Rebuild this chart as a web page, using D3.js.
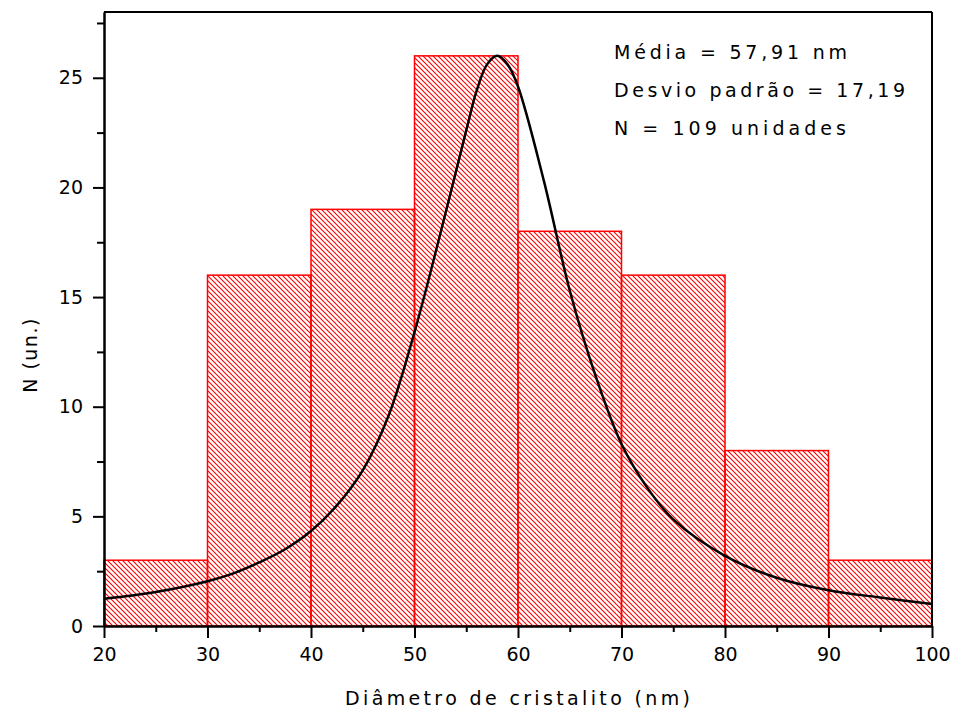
<!DOCTYPE html>
<html>
<head>
<meta charset="utf-8">
<title>Distribuição de diâmetros</title>
<script src="https://cdn.jsdelivr.net/npm/d3@7/dist/d3.min.js"></script>
<style>
    body { margin: 0; background: white; }
    svg text { font-family: "DejaVu Sans", sans-serif; fill: black; }
    .axis path, .axis line { stroke: black; stroke-width: 2; }
    .axis text { font-size: 19px; }
</style>
</head>
<body>
<svg id="mainsvg" width="955" height="718"></svg>
<script>
    // histogram bins (nm) and counts
    const binStart = [20, 30, 40, 50, 60, 70, 80, 90];
    const binEnd = [30, 40, 50, 60, 70, 80, 90, 100];
    const counts = [3, 16, 19, 26, 18, 16, 8, 3];

    // fitted curve
    const curveX = [20, 25, 30, 32.5, 35, 37.5, 40, 42.5, 45, 47.5, 50, 52.5, 55, 56, 57, 58, 59, 60, 62.5, 65, 67.5, 70, 72.5, 75, 80, 85, 90, 95, 100];
    const curveY = [1.24, 1.55, 2.04, 2.4, 2.9, 3.5, 4.33, 5.5, 7.1, 9.6, 13.4, 17.9, 22.6, 24.4, 25.6, 26.0, 25.6, 24.6, 20.3, 15.3, 11.4, 8.3, 6.3, 4.86, 3.2, 2.2, 1.63, 1.3, 1.0];

    const xTicks = [20, 30, 40, 50, 60, 70, 80, 90, 100];
    const xMinor = [25, 35, 45, 55, 65, 75, 85, 95];
    const yTicks = [0, 5, 10, 15, 20, 25];
    const yMinor = [2.5, 7.5, 12.5, 17.5, 22.5, 27.5];

    const statLines = ['Média = 57,91 nm', 'Desvio padrão = 17,19', 'N = 109 unidades'];
    const statWidths = [233, 291, 232];

    const svg = d3.select('#mainsvg');
    const margin = { top: 12, right: 23, bottom: 92, left: 104 };
    const innerWidth = 955 - margin.left - margin.right;
    const innerHeight = 718 - margin.top - margin.bottom;
    const g = svg.append('g').attr('transform', `translate(${margin.left}, ${margin.top})`);

    const xScale = d3.scaleLinear().domain([20, 100]).range([0, innerWidth]);
    const yScale = d3.scaleLinear().domain([0, 28]).range([innerHeight, 0]);

    // hatch pattern "\\\\"
    svg.append('defs').append('pattern')
        .attr('id', 'hatch')
        .attr('patternUnits', 'userSpaceOnUse')
        .attr('width', 5).attr('height', 5)
        .append('path')
        .attr('d', 'M-1,-1 L6,6 M-1,4 L1,6 M4,-1 L6,1')
        .attr('stroke', 'red').attr('stroke-width', 1.1);

    const bins = counts.map((c, i) => ({ x0: binStart[i], x1: binEnd[i], n: c }));

    g.selectAll('.bar').data(bins).join('rect')
        .attr('class', 'bar')
        .attr('x', d => xScale(d.x0))
        .attr('y', d => yScale(d.n))
        .attr('width', d => xScale(d.x1) - xScale(d.x0))
        .attr('height', d => yScale(0) - yScale(d.n))
        .attr('fill', 'url(#hatch)')
        .attr('stroke', 'red')
        .attr('stroke-width', 1.5);

    const pts = curveX.map((x, i) => [x, curveY[i]]);
    const line = d3.line()
        .x(d => xScale(d[0]))
        .y(d => yScale(d[1]))
        .curve(d3.curveCatmullRom);
    g.append('path').datum(pts)
        .attr('d', line)
        .attr('fill', 'none')
        .attr('stroke', 'black')
        .attr('stroke-width', 2.5);

    // frame top / right
    g.append('line').attr('x1', 0).attr('x2', innerWidth).attr('y1', 0).attr('y2', 0)
        .attr('stroke', 'black').attr('stroke-width', 2);
    g.append('line').attr('x1', innerWidth).attr('x2', innerWidth).attr('y1', 0).attr('y2', innerHeight)
        .attr('stroke', 'black').attr('stroke-width', 2);

    // axes
    g.append('g').attr('class', 'axis')
        .attr('transform', `translate(0, ${innerHeight})`)
        .call(d3.axisBottom(xScale).tickValues(xTicks).tickSize(12).tickSizeOuter(0).tickPadding(10));
    g.append('g').attr('class', 'axis minor')
        .attr('transform', `translate(0, ${innerHeight})`)
        .call(d3.axisBottom(xScale).tickValues(xMinor).tickSize(6).tickSizeOuter(0));
    g.append('g').attr('class', 'axis')
        .call(d3.axisLeft(yScale).tickValues(yTicks).tickSize(11).tickSizeOuter(0).tickPadding(10));
    g.append('g').attr('class', 'axis minor')
        .call(d3.axisLeft(yScale).tickValues(yMinor).tickSize(7).tickSizeOuter(0));
    g.selectAll('.minor text').remove();

    // axis titles
    svg.append('text')
        .attr('x', 345).attr('y', 705)
        .attr('font-size', 19)
        .attr('textLength', 345).attr('lengthAdjust', 'spacing')
        .text('Diâmetro de cristalito (nm)');
    svg.append('text')
        .attr('transform', 'translate(37, 355) rotate(-90)')
        .attr('text-anchor', 'middle').attr('font-size', 19)
        .attr('letter-spacing', 1.5)
        .text('N (un.)');

    // stats box
    svg.selectAll('.stat').data(statLines).join('text')
        .attr('class', 'stat')
        .attr('x', 614)
        .attr('y', (d, i) => 59 + i * 38)
        .attr('font-size', 19)
        .attr('textLength', (d, i) => statWidths[i])
        .attr('lengthAdjust', 'spacing')
        .text(d => d);
</script>
</body>
</html>
